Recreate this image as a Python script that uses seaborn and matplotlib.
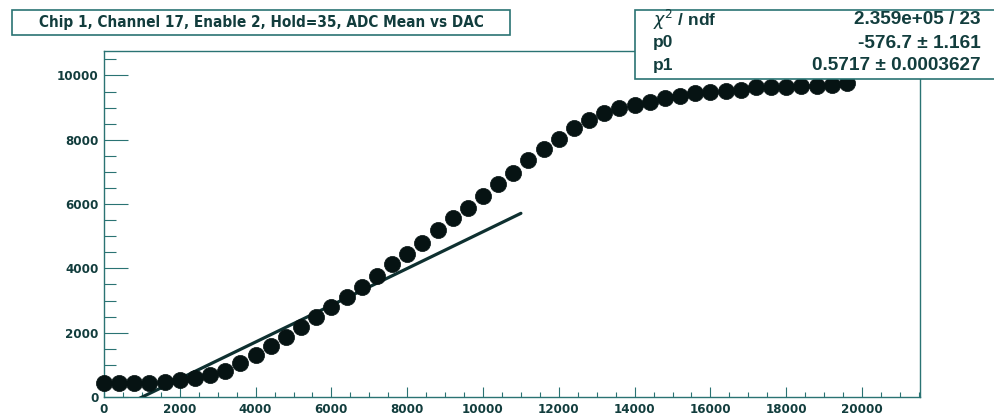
import matplotlib
matplotlib.use("Agg")
import matplotlib.pyplot as plt
from matplotlib.patches import Rectangle
from matplotlib.ticker import MultipleLocator
import seaborn as sns
import pandas as pd

# DAC settings scanned and the mean ADC response at each
dac = [0, 400, 800, 1200, 1600, 2000, 2400, 2800, 3200, 3600,
       4000, 4400, 4800, 5200, 5600, 6000, 6400, 6800, 7200, 7600,
       8000, 8400, 8800, 9200, 9600, 10000, 10400, 10800, 11200, 11600,
       12000, 12400, 12800, 13200, 13600, 14000, 14400, 14800, 15200, 15600,
       16000, 16400, 16800, 17200, 17600, 18000, 18400, 18800, 19200, 19600]
adc_mean = [425, 425, 430, 440, 475, 530, 600, 685, 820, 1045,
            1305, 1585, 1855, 2165, 2475, 2790, 3100, 3430, 3760, 4130,
            4445, 4800, 5190, 5555, 5865, 6265, 6630, 6955, 7355, 7700,
            8020, 8350, 8610, 8820, 8975, 9080, 9180, 9285, 9365, 9440,
            9470, 9510, 9545, 9625, 9645, 9650, 9665, 9680, 9700, 9750]

# linear fit result p0 + p1*x over the fit range
p0, p0_err = -576.7, 1.161
p1, p1_err = 0.5717, 0.0003627
chi2, ndf = 2.359e+05, 23
fit_range = [0, 11000]

title = "Chip 1, Channel 17, Enable 2, Hold=35, ADC Mean vs DAC"
stat_names = [r"$\chi^2$ / ndf", "p0", "p1"]
stat_values = ["2.359e+05 / 23", "-576.7 \u00b1 1.161", "0.5717 \u00b1 0.0003627"]

TEXT = "#123d3d"
LINE = "#2a7373"
MARK = "#061313"

sns.set_theme(style="white")
plt.rcParams["font.family"] = ["DejaVu Sans"]

W, H = 994, 416
fig = plt.figure(figsize=(W / 100, H / 100), dpi=100)
fig.patch.set_facecolor("white")
ax = fig.add_axes([104 / W, 19 / H, 816 / W, 346 / H])

points = pd.DataFrame({"DAC": dac, "ADC": adc_mean})
fit = pd.DataFrame({"DAC": fit_range,
                    "ADC": [p0 + p1 * x for x in fit_range]})

sns.lineplot(data=fit, x="DAC", y="ADC", ax=ax, color="#0e3030",
             linewidth=2.3, zorder=3)
sns.scatterplot(data=points, x="DAC", y="ADC", ax=ax, color=MARK,
                s=135, edgecolor=MARK, linewidth=0.5, zorder=4, clip_on=False)

ax.set_xlim(0, 21530)
ax.set_ylim(0, 10760)
ax.set_xlabel("")
ax.set_ylabel("")

ax.xaxis.set_major_locator(MultipleLocator(2000))
ax.xaxis.set_minor_locator(MultipleLocator(500))
ax.yaxis.set_major_locator(MultipleLocator(2000))
ax.yaxis.set_minor_locator(MultipleLocator(500))

ax.tick_params(axis="x", which="major", direction="in", length=7.5, width=0.8,
               color=LINE, labelsize=8.6, labelcolor=TEXT, pad=4,
               bottom=True, top=False)
ax.tick_params(axis="x", which="minor", direction="in", length=3.8, width=0.8,
               color=LINE, bottom=True, top=False)
ax.tick_params(axis="y", which="major", direction="in", length=17.5, width=0.8,
               color=LINE, labelsize=8.6, labelcolor=TEXT, pad=4,
               left=True, right=False)
ax.tick_params(axis="y", which="minor", direction="in", length=8.8, width=0.8,
               color=LINE, left=True, right=False)
for lab in ax.get_xticklabels() + ax.get_yticklabels():
    lab.set_fontweight("bold")
for sp in ax.spines.values():
    sp.set_visible(True)
    sp.set_color(LINE)
    sp.set_linewidth(1.0)

renderer = fig.canvas.get_renderer()


def fit_width(txt, width_px):
    bb = txt.get_window_extent(renderer)
    txt.set_fontsize(txt.get_fontsize() * width_px / bb.width)


# title box
fig.add_artist(Rectangle((12 / W, (H - 35) / H), 498 / W, 25 / H,
                         transform=fig.transFigure, facecolor="white",
                         edgecolor=LINE, linewidth=1.2, zorder=5))
t = fig.text(261 / W, (H - 22.5) / H, title, ha="center", va="center",
             fontsize=11, fontweight="bold", fontstretch="condensed",
             color=TEXT, zorder=6, family=["DejaVu Sans"])
fit_width(t, 444)

# fit statistics box
fig.add_artist(Rectangle((635 / W, (H - 79) / H), 400 / W, 69 / H,
                         transform=fig.transFigure, facecolor="white",
                         edgecolor=LINE, linewidth=1.2, zorder=5,
                         clip_on=False))
row_y = [20, 43, 65.5]
vals = []
for name, val, y in zip(stat_names, stat_values, row_y):
    fig.text(653 / W, (H - y) / H, name, ha="left", va="center",
             fontsize=12.5, fontweight="bold", color=TEXT, zorder=6,
             family=["Liberation Sans"])
    vals.append(fig.text(981 / W, (H - y) / H, val, ha="right", va="center",
                         fontsize=12, fontweight="bold", color=TEXT, zorder=6,
                         family=["Liberation Sans"]))
fit_width(vals[2], 168)
for v in vals[:2]:
    v.set_fontsize(vals[2].get_fontsize())

fig.savefig("out.png", dpi=100, facecolor="white")
